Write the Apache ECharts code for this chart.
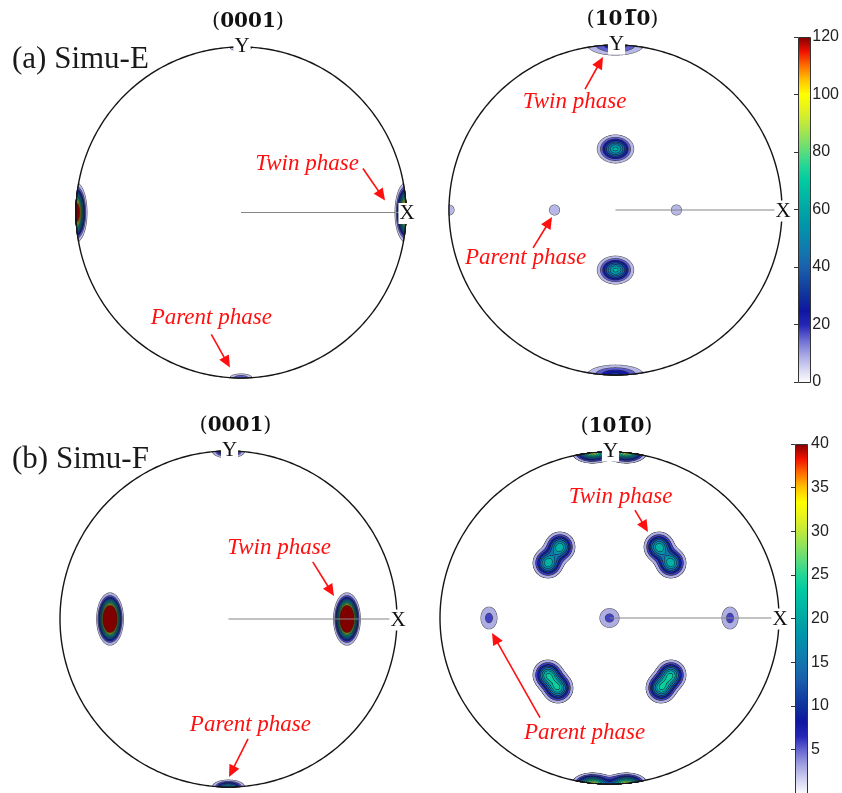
<!DOCTYPE html>
<html><head><meta charset="utf-8">
<script src="https://cdn.jsdelivr.net/npm/echarts@6/dist/echarts.min.js"></script>
<style>html,body{margin:0;padding:0;background:#fff}#c{width:842px;height:793px}</style>
</head><body><div id="c"></div>
<script>
// ===== DATA (unit pole-figure coordinates; X to the right, Y up) =====
// each pole: [x, y, spreadMajor, spreadMinor, peak intensity, profile exponent, orientation (deg)]
const polesA0001 = [
  [-1.0, 0.0, 0.027, 0.073, 160, 2, 0],
  [ 1.0, 0.0, 0.027, 0.073, 160, 2, 0],
  [ 0.0, 1.0, 0.045, 0.016, 24, 2, 0],
  [ 0.0,-1.0, 0.045, 0.016, 24, 2, 0]
];
const polesA1010 = [
  [ 0.0, 1.0, 0.103, 0.037, 30, 2, 0],
  [ 0.0,-1.0, 0.099, 0.035, 34, 2, 0],
  [ 0.0, 0.370, 0.053, 0.041, 66, 2, 0],
  [ 0.0,-0.364, 0.053, 0.041, 66, 2, 0],
  [-0.366, 0.0, 0.033, 0.033, 12, 2, 0],
  [ 0.366, 0.0, 0.033, 0.033, 12, 2, 0],
  [-1.0, 0.0, 0.033, 0.033, 12, 2, 0],
  [ 1.0, 0.0, 0.033, 0.033, 12, 2, 0]
];
const polesB0001 = [
  [-0.703, 0.0, 0.030, 0.059, 95, 2, 0],
  [ 0.703, 0.0, 0.030, 0.059, 95, 2, 0],
  [ 0.0, 1.0, 0.049, 0.021, 20, 2, 0],
  [ 0.0,-1.0, 0.049, 0.021, 20, 2, 0]
];
const polesB1010 = [
  [-0.10, 1.0, 0.055, 0.030, 33, 2, 0], [0.10, 1.0, 0.055, 0.030, 33, 2, 0],
  [-0.10,-1.0, 0.055, 0.030, 33, 2, 0], [0.10,-1.0, 0.055, 0.030, 33, 2, 0],
  [-0.292, 0.428, 0.043, 0.044, 23, 2, 0], [-0.363, 0.331, 0.043, 0.044, 23, 2, 0],
  [ 0.292, 0.428, 0.043, 0.044, 23, 2, 0], [ 0.363, 0.331, 0.043, 0.044, 23, 2, 0],
  [-0.363,-0.343, 0.043, 0.044, 23, 2, 0], [-0.304,-0.422, 0.043, 0.044, 23, 2, 0],
  [ 0.363,-0.343, 0.043, 0.044, 23, 2, 0], [ 0.304,-0.422, 0.043, 0.044, 23, 2, 0],
  [ 0.0, 0.0, 0.043, 0.043, 7, 2, 0],
  [-0.711, 0.0, 0.036, 0.050, 7, 2, 0],
  [ 0.711, 0.0, 0.036, 0.050, 7, 2, 0]
];
// contour levels
const levelsA = [8,16,24,32,40,48,56,64,72,80,88,96,104,112,120];
const levelsB = [3,6,9,12,15,18,21,24,27,30,33,36,39,40];
// colour bar ranges / ticks
const barA = {min:0, max:120, interval:20};
const barB = {min:0, max:40, interval:5};
// titles
const panelTitles = ['(a) Simu-E', '(b) Simu-F'];
// annotations: text [x, y] and arrows [x1, y1, x2, y2] in each panel's coordinates
const annTextA0001 = [[0.40, 0.296], [-0.18, -0.64]];
const annArrowA0001 = [[0.739, 0.266, 0.873, 0.073], [-0.18, -0.737, -0.067, -0.937]];
const annTextA1010 = [[-0.246, 0.655], [-0.54, -0.29]];
const annArrowA1010 = [[-0.183, 0.733, -0.075, 0.927], [-0.495, -0.23, -0.381, -0.042]];
const annTextB0001 = [[0.30, 0.423], [0.13, -0.63]];
const annArrowB0001 = [[0.50, 0.34, 0.626, 0.137], [0.116, -0.714, 0.003, -0.94]];
const annTextB1010 = [[0.065, 0.729], [-0.147, -0.693]];
const annArrowB1010 = [[0.15, 0.65, 0.227, 0.518], [-0.41, -0.60, -0.693, -0.09]];
const annLabels = ['Twin phase', 'Parent phase'];

// ===== STYLE =====
const colormap = ['#ffffff','#d4d4f2','#a4a4e2','#6a6ad2','#2626b8','#0e16a0','#10309c','#1448a4',
  '#1a60ac','#1474ae','#0a86ae','#0096aa','#00a6a4','#00b8a4','#00caa2','#20d696','#58dc7e',
  '#8ee25e','#bfe93c','#e6f21e','#ffff00','#ffc400','#ff6e00','#f01000','#800000'];
const SERIF = '"Liberation Serif","Times New Roman",serif';
const RED = '#ff1010';

// ---- intensity field (sum of pole densities) and its iso-lines ----
function prepPoles(poles){
  return poles.map(p => ({x:p[0], y:p[1], a:p[2], b:p[3], P:p[4], e:p[5],
    c:Math.cos(p[6]*Math.PI/180), s:Math.sin(p[6]*Math.PI/180)}));
}
function field(pp, x, y){
  let s = 0;
  for (const q of pp){
    const dx=x-q.x, dy=y-q.y;
    const u=(dx*q.c+dy*q.s)/q.a, v=(-dx*q.s+dy*q.c)/q.b, d2=u*u+v*v;
    s += q.P*Math.exp(-0.5*(q.e===2 ? d2 : Math.pow(d2, q.e/2)));
  }
  return s;
}
function contourPolys(poles, levels){
  const pp = prepPoles(poles);
  const NA = 100, dr = 0.002, RMAX = 0.42, NS = Math.round(RMAX/dr);
  const res = {};
  poles.forEach((p, i) => {
    const f0 = field(pp, p[0], p[1]);
    const profiles = [];
    for (let a=0; a<NA; a++){
      const t = a/NA*2*Math.PI, ca=Math.cos(t), sa=Math.sin(t);
      const prof = new Float64Array(NS+1);
      for (let j=0; j<=NS; j++) prof[j] = field(pp, p[0]+j*dr*ca, p[1]+j*dr*sa);
      profiles.push([ca, sa, prof]);
    }
    levels.forEach(L => {
      if (f0 <= L) return;
      const pts = [];
      profiles.forEach(([ca, sa, prof]) => {
        let j = 1; while (j <= NS && prof[j] >= L) j++;
        let r = RMAX;
        if (j <= NS){ const u = (prof[j-1]-L)/(prof[j-1]-prof[j]); r = (j-1+u)*dr; }
        let x = p[0]+r*ca, y = p[1]+r*sa;
        const rr = Math.hypot(x, y); if (rr > 1){ x/=rr; y/=rr; }
        pts.push([x, y]);
      });
      res[i+'_'+L] = pts;
    });
  });
  return res;
}
function buildContourData(poles, levels, polys){
  const out = [];
  levels.forEach(L => [0,1].forEach(pass => poles.forEach((p,i) => {
    if (polys[i+'_'+L]) out.push([p[0], p[1], i, L, pass]);
  })));
  return out;
}
function makeContour(polys){
  return function(params, api){
    const pts = polys[api.value(2)+'_'+api.value(3)].map(q => api.coord(q));
    if (api.value(4) === 0)
      return {type:'polygon', shape:{points:pts}, style:{fill:'none', stroke:'rgba(25,25,25,0.75)', lineWidth:1.1}};
    return {type:'polygon', shape:{points:pts}, style:{fill:api.visual('color'), stroke:null}};
  };
}
function makeFrame(planeRich){
  return function(params, api){
    const pts=[];
    for(let i=0;i<360;i++){const t=i/360*2*Math.PI; pts.push(api.coord([Math.cos(t),Math.sin(t)]));}
    const c=api.coord([0,0]), e=api.coord([1,0]), tp=api.coord([0,1]);
    return {type:'group', children:[
      {type:'line', shape:{x1:c[0],y1:c[1],x2:e[0],y2:e[1]}, style:{stroke:'#858585', lineWidth:1.1}},
      {type:'polygon', shape:{points:pts}, style:{fill:'none', stroke:'#151515', lineWidth:1.4}},
      {type:'text', style:{text:'X', x:e[0]+1, y:e[1]+1, align:'center', verticalAlign:'middle',
        fontSize:21, fontFamily:SERIF, fill:'#111', backgroundColor:'#fff', padding:[0,1]}},
      {type:'text', style:{text:'Y', x:tp[0]+1, y:tp[1]-1, align:'center', verticalAlign:'middle',
        fontSize:21, fontFamily:SERIF, fill:'#111', backgroundColor:'#fff', padding:[0,1]}},
      {type:'text', style:{text:planeRich, x:tp[0]+7, y:tp[1]-25, align:'center', verticalAlign:'middle',
        rich:{p:{fontSize:21, fontFamily:'"DejaVu Serif",serif', fill:'#111'},
              b:{fontSize:20, fontWeight:'bold', fontFamily:'"DejaVu Serif",serif', fill:'#111'}}}}
    ]};
  };
}
function arrowItem(params, api){
  const p1=api.coord([api.value(0),api.value(1)]), p2=api.coord([api.value(2),api.value(3)]);
  const a=Math.atan2(p2[1]-p1[1], p2[0]-p1[0]);
  const Lh=12, W=5.5, ca=Math.cos(a), sa=Math.sin(a);
  const b=[p2[0]-Lh*ca, p2[1]-Lh*sa];
  return {type:'group', children:[
    {type:'line', shape:{x1:p1[0],y1:p1[1],x2:b[0]+2*ca,y2:b[1]+2*sa}, style:{stroke:RED, lineWidth:1.6}},
    {type:'polygon', shape:{points:[p2,[b[0]-W*sa,b[1]+W*ca],[b[0]+W*sa,b[1]-W*ca]]}, style:{fill:RED}}
  ]};
}
function textItem(params, api){
  const p=api.coord([api.value(0),api.value(1)]);
  return {type:'text', style:{text:annLabels[params.dataIndex], x:p[0], y:p[1], align:'center', verticalAlign:'middle',
    fontSize:23, fontStyle:'italic', fontFamily:SERIF, fill:RED}};
}

const panels = [
  {poles:polesA0001, levels:levelsA, plane:'{p|(}{b|0001}{p|)}', txt:annTextA0001, arr:annArrowA0001},
  {poles:polesA1010, levels:levelsA, plane:'{p|(}{b|101\u03050}{p|)}', txt:annTextA1010, arr:annArrowA1010},
  {poles:polesB0001, levels:levelsB, plane:'{p|(}{b|0001}{p|)}', txt:annTextB0001, arr:annArrowB0001},
  {poles:polesB1010, levels:levelsB, plane:'{p|(}{b|101\u03050}{p|)}', txt:annTextB1010, arr:annArrowB1010}
];
const grids = [
  {left:76, top:47, width:330, height:331},
  {left:449, top:45, width:333, height:330},
  {left:60, top:451, width:337, height:336},
  {left:440, top:452, width:339, height:332},
  {left:798, top:37, width:12, height:345},
  {left:795, top:444, width:12, height:350}
];
const xAxes=[], yAxes=[];
for(let i=0;i<4;i++){
  xAxes.push({gridIndex:i, type:'value', min:-1, max:1, show:false});
  yAxes.push({gridIndex:i, type:'value', min:-1, max:1, show:false});
}
[barA, barB].forEach((b,j)=>{
  xAxes.push({gridIndex:4+j, type:'value', min:0, max:1, show:false});
  yAxes.push({gridIndex:4+j, type:'value', min:b.min, max:b.max, interval:b.interval, position:'right', z:10,
    axisLine:{show:false}, splitLine:{show:false},
    axisTick:{show:true, inside:true, length:4, lineStyle:{color:'#333'}},
    axisLabel:{show:true, showMinLabel: j===0, margin: j===0 ? 6 : 4, fontSize:16, color:'#222',
      fontFamily:'"Liberation Sans",Arial,sans-serif'}});
});
const series=[];
panels.forEach((p,i)=>{
  const polys = contourPolys(p.poles, p.levels);
  series.push({type:'custom', xAxisIndex:i, yAxisIndex:i, z:2, silent:true,
    renderItem:makeContour(polys), data:buildContourData(p.poles, p.levels, polys), encode:{x:0,y:1}});
});
panels.forEach((p,i)=>series.push({type:'custom', xAxisIndex:i, yAxisIndex:i, z:5, silent:true,
  renderItem:makeFrame(p.plane), data:[[0,0]]}));
panels.forEach((p,i)=>series.push({type:'custom', xAxisIndex:i, yAxisIndex:i, z:6, silent:true,
  renderItem:arrowItem, data:p.arr}));
panels.forEach((p,i)=>series.push({type:'custom', xAxisIndex:i, yAxisIndex:i, z:7, silent:true,
  renderItem:textItem, data:p.txt}));

function gradientFill(){
  const n=colormap.length;
  return {type:'linear', x:0, y:0, x2:0, y2:1,
    colorStops: colormap.map((c,i)=>({offset:i/(n-1), color:colormap[n-1-i]}))};
}
const graphic = [
  {type:'rect', left:grids[4].left, top:grids[4].top, z:0, shape:{width:grids[4].width, height:grids[4].height},
    style:{fill:gradientFill(), stroke:'#333', lineWidth:1}},
  {type:'rect', left:grids[5].left, top:grids[5].top, z:0, shape:{width:grids[5].width, height:grids[5].height},
    style:{fill:gradientFill(), stroke:'#333', lineWidth:1}},
  {type:'text', left:12, top:44, style:{text:panelTitles[0], fontSize:31, fontFamily:SERIF, fill:'#1a1a1a'}},
  {type:'text', left:12, top:444, style:{text:panelTitles[1], fontSize:31, fontFamily:SERIF, fill:'#1a1a1a'}}
];

const chart = echarts.init(document.getElementById('c'), null, {renderer:'canvas', width:842, height:793});
chart.setOption({
  animation:false,
  backgroundColor:'#fff',
  grid:grids.map(g=>Object.assign({containLabel:false}, g)),
  xAxis:xAxes, yAxis:yAxes,
  visualMap:[
    {type:'continuous', show:false, min:barA.min, max:barA.max, dimension:3, seriesIndex:[0,1], inRange:{color:colormap}},
    {type:'continuous', show:false, min:barB.min, max:barB.max, dimension:3, seriesIndex:[2,3], inRange:{color:colormap}}
  ],
  graphic:graphic,
  series:series
});
</script></body></html>
